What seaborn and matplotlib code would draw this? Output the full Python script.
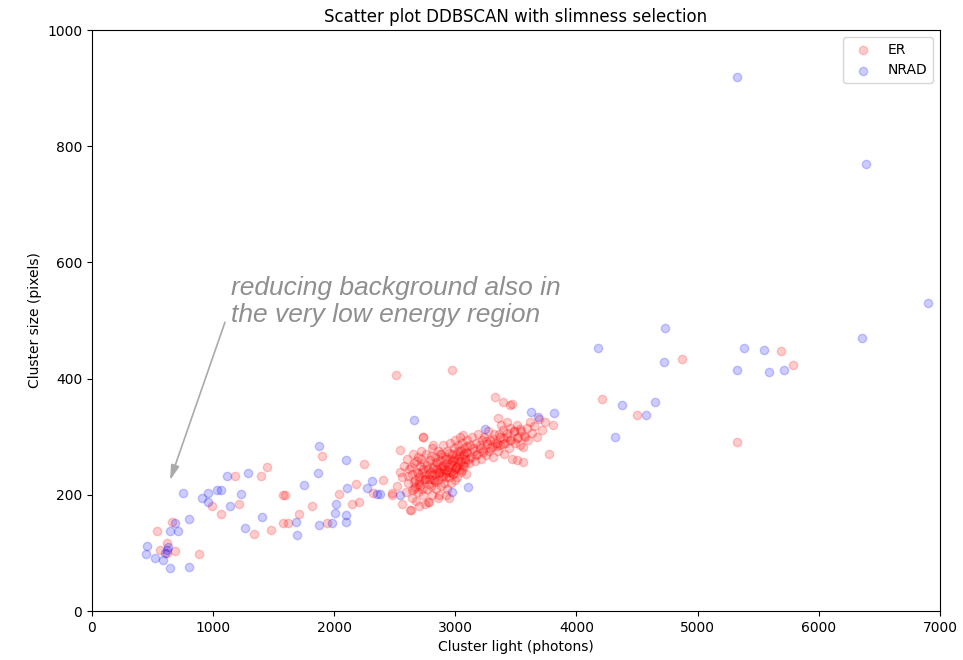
import pandas as pd
import matplotlib
matplotlib.use("Agg")
import matplotlib.pyplot as plt
import seaborn as sns

# ER (rosso) - luce in fotoni, dimensione in pixel
er_light = [
    534, 660, 616, 561, 686, 620, 883, 988, 1062, 1180, 1393, 1442, 1213, 1574, 1593,
    1340, 1475, 1574, 1618, 1709, 1816, 1937, 1896, 2042, 2146, 2204, 2179, 2245, 2320,
    2509, 2974, 4207, 4873, 5688, 5790, 4502, 5324,
    2405, 2474, 2479, 2520, 2540, 2542, 2556, 2560, 2580, 2590, 2600, 2610, 2620, 2625,
    2633, 2640, 2645, 2650, 2655, 2660, 2670, 2675, 2680, 2690, 2695, 2700, 2705, 2710,
    2720, 2725, 2729, 2733, 2735, 2740, 2745, 2750, 2755, 2760, 2765, 2770, 2777, 2782,
    2785, 2790, 2795, 2800, 2805, 2810, 2815, 2818, 2820, 2830, 2835, 2840, 2845, 2850,
    2855, 2860, 2865, 2870, 2875, 2880, 2885, 2890, 2895, 2900, 2905, 2910, 2915, 2920,
    2925, 2930, 2935, 2940, 2945, 2950, 2955, 2960, 2965, 2970, 2975, 2980, 2985, 2990,
    2995, 3000, 3005, 3010, 3015, 3020, 3025, 3030, 3035, 3040, 3045, 3050, 3055, 3060,
    3065, 3070, 3075, 3080, 3090, 3095, 3100, 3110, 3120, 3130, 3140, 3150, 3160, 3170,
    3180, 3190, 3200, 3210, 3220, 3231, 3240, 3250, 3260, 3270, 3280, 3290, 3300, 3310,
    3320, 3330, 3341, 3350, 3354, 3360, 3370, 3380, 3390, 3396, 3400, 3410, 3423, 3430,
    3440, 3450, 3460, 3470, 3480, 3490, 3506, 3510, 3520, 3530, 3545, 3560, 3560, 3574,
    3590, 3600, 3615, 3630, 3650, 3670, 3690, 3712, 3740, 3773, 3808, 3327, 3393, 3451,
    3469, 2700, 2860, 2920, 3000, 2950,
    # nucleo denso
    2610, 2630, 2655, 2672, 2688, 2702, 2718, 2736, 2752, 2768, 2784, 2798, 2812, 2826,
    2842, 2858, 2872, 2886, 2902, 2918, 2932, 2948, 2962, 2978, 2992, 3008, 3022, 3038,
    3052, 3068, 3082, 3098, 2640, 2668, 2696, 2724, 2752, 2780, 2808, 2836, 2864, 2892,
    2920, 2948, 2976, 3004, 3032, 3060, 3088, 3116, 3144, 3172, 3200, 3228, 3256, 3284,
    3312, 3340, 3368, 3396, 3424, 3452, 3480, 3508, 3536, 3564,
]
er_size = [
    138, 153, 117, 105, 103, 100, 98, 180, 167, 232, 232, 248, 184, 200, 200,
    132, 139, 151, 151, 167, 180, 151, 267, 201, 184, 188, 218, 253, 203,
    407, 415, 365, 434, 448, 423, 337, 291,
    225, 200, 203, 215, 240, 277, 185, 230, 250, 205, 262, 220, 245, 174,
    174, 195, 235, 271, 210, 255, 225, 190, 240, 265, 205, 230, 250, 215,
    275, 240, 300, 300, 200, 225, 255, 185, 235, 270, 210, 245, 188, 188,
    228, 260, 215, 240, 280, 200, 250, 286, 225, 265, 235, 210, 255, 245,
    275, 225, 200, 260, 240, 215, 270, 250, 230, 285, 245, 220, 265, 238,
    255, 210, 275, 248, 230, 262, 290, 240, 220, 270, 252, 235, 280, 260,
    245, 295, 270, 250, 230, 285, 262, 245, 300, 275, 258, 240, 290, 268,
    303, 250, 280, 262, 235, 295, 272, 255, 285, 265, 300, 275, 258, 290,
    270, 305, 280, 262, 295, 277, 300, 268, 288, 310, 275, 295, 282, 265,
    305, 290, 289, 275, 332, 305, 285, 320, 298, 312, 270, 290, 326, 300,
    280, 315, 295, 262, 310, 290, 260, 320, 300, 285, 310, 283, 257, 300,
    315, 295, 325, 306, 318, 300, 330, 312, 325, 271, 320, 369, 360, 354,
    356, 180, 195, 200, 225, 195,
    232, 248, 222, 258, 238, 218, 262, 244, 228, 252, 236, 266, 246, 226,
    256, 240, 270, 232, 250, 262, 242, 272, 254, 236, 264, 248, 276, 258,
    242, 272, 256, 284, 208, 214, 224, 210, 228, 218, 234, 222, 238, 246,
    230, 240, 258, 246, 266, 252, 274, 262, 280, 268, 286, 274, 292, 280,
    296, 284, 300, 288, 306, 294, 310, 298, 314, 302,
]

# NRAD (blu)
nrad_light = [
    749, 457, 446, 520, 588, 646, 798, 616, 600, 630, 646, 711, 686, 798, 909, 960,
    1029, 1065, 960, 1139, 1227, 1111, 1288, 1403, 1263, 1689, 1684, 1753, 1866, 1874,
    1874, 1981, 2014, 2006, 2094, 2094, 2102, 2094, 2309, 2267, 2353, 2542, 2377, 2658,
    3244, 3624, 3685, 3817, 2969, 3106, 4180, 4372, 4317, 4732, 4722, 5385, 5550, 5324,
    5589, 5715, 4648, 4571, 6353, 6904, 5324, 6389,
]
nrad_size = [
    203, 112, 98, 91, 88, 74, 75, 105, 100, 110, 137, 137, 151, 158, 195, 203,
    208, 208, 188, 180, 201, 232, 237, 161, 143, 130, 153, 217, 237, 284,
    148, 152, 184, 169, 165, 153, 212, 260, 224, 212, 201, 200, 201, 329,
    313, 342, 334, 340, 205, 213, 452, 355, 300, 488, 428, 452, 449, 415,
    412, 415, 360, 337, 470, 531, 919, 769,
]

df = pd.DataFrame({
    "light": er_light + nrad_light,
    "size": er_size + nrad_size,
    "tipo": ["ER"] * len(er_light) + ["NRAD"] * len(nrad_light),
})

fig = plt.figure(figsize=(9.63, 6.6), dpi=100)
ax = fig.add_axes([0.0955, 0.0742, 0.8805, 0.8803])

colori = {"ER": "red", "NRAD": "blue"}
for tipo in ["ER", "NRAD"]:
    sub = df[df["tipo"] == tipo]
    sns.scatterplot(x="light", y="size", data=sub, color=colori[tipo], alpha=0.2,
                    s=36, edgecolor=colori[tipo], linewidth=1, label=tipo, ax=ax)

ax.set_xlim(0, 7000)
ax.set_ylim(0, 1000)
ax.set_title("Scatter plot DDBSCAN with slimness selection", fontsize=12)
ax.set_xlabel("Cluster light (photons)", fontsize=10)
ax.set_ylabel("Cluster size (pixels)", fontsize=10)
ax.legend(loc="upper right", fontsize=10)

# testo e freccia separati
ax.text(1147, 497, "reducing background also in\nthe very low energy region",
        fontsize=19, style="italic", color="#8f8f8f",
        family=["Liberation Sans", "DejaVu Sans"], linespacing=1.15,
        ha="left", va="baseline")
ax.annotate("", xy=(644, 225), xytext=(1098, 497),
            arrowprops=dict(arrowstyle="-|>,head_length=0.9,head_width=0.25",
                            color="#aaaaaa", lw=1.2, shrinkA=0, shrinkB=0))

fig.savefig("out.png", dpi=100)
